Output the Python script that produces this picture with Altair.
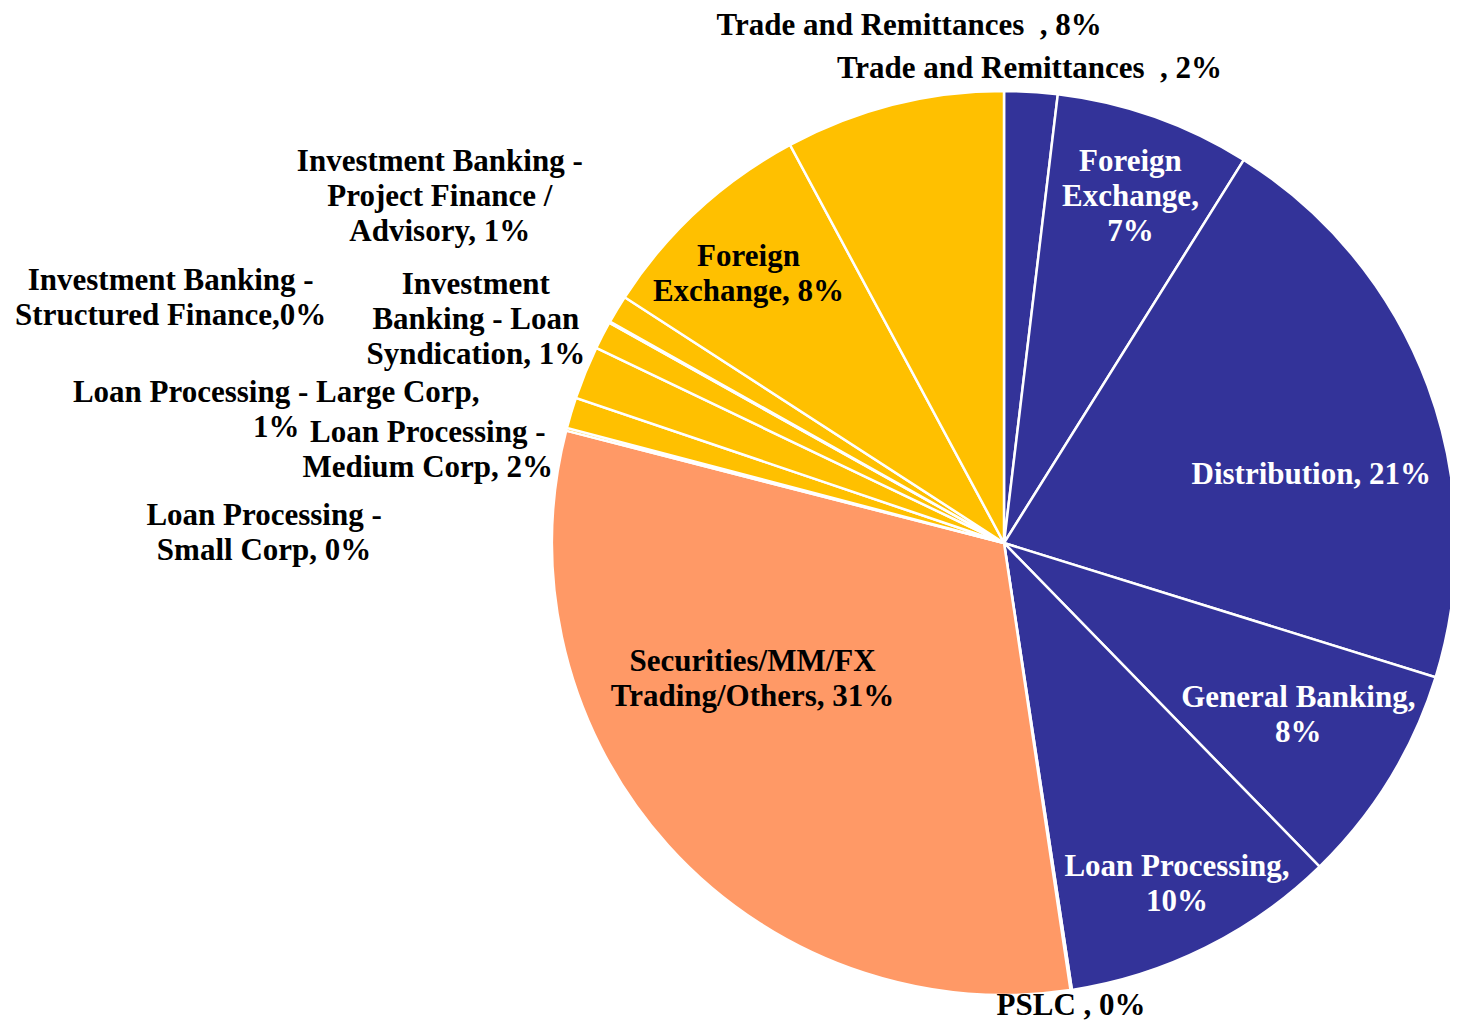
import altair as alt
import pandas as pd
import numpy as np

# ---- data ----
categories = [
    "Trade and Remittances", "Foreign Exchange", "Distribution", "General Banking",
    "Loan Processing", "PSLC", "Securities/MM/FX Trading/Others",
    "Loan Processing - Small Corp", "Loan Processing - Large Corp",
    "Loan Processing - Medium Corp", "Investment Banking - Loan Syndication",
    "Investment Banking - Structured Finance",
    "Investment Banking - Project Finance / Advisory",
    "Foreign Exchange (2)", "Trade and Remittances (2)",
]
values = [1.9, 7.0, 20.9, 7.9, 9.9, 0.05, 31.35, 0.1, 1.1, 1.9, 1.0, 0.05, 1.0, 8.0, 7.85]
groups = ["A", "A", "A", "A", "A", "A", "B", "C", "C", "C", "C", "C", "C", "C", "C"]
labels = [
    "Trade and Remittances\u00a0 , 2%",
    "Foreign\nExchange,\n7%",
    "Distribution, 21%",
    "General Banking,\n8%",
    "Loan Processing,\n10%",
    "PSLC , 0%",
    "Securities/MM/FX\nTrading/Others, 31%",
    "Loan Processing -\nSmall Corp, 0%",
    "Loan Processing - Large Corp,\n1%",
    "Loan Processing -\nMedium Corp, 2%",
    "Investment\nBanking - Loan\nSyndication, 1%",
    "Investment Banking -\nStructured Finance,0%",
    "Investment Banking -\nProject Finance /\nAdvisory, 1%",
    "Foreign\nExchange, 8%",
    "Trade and Remittances\u00a0 , 8%",
]

# ---- layout / style (label placement) ----
label_nudge_pct = [-0.1, 0.15, 2.1, -0.4, -0.15, 0.075, 3.875, -3.8, -1.75, -3.55, -1.2, -3.55, 0.15, -0.2, 1.05]
label_radius = [477, 370, 315, 340, 381, 466, 285, 740, 740, 584, 574, 869, 663, 372, 528]
label_white = [False, True, True, True, True, False, False, False, False, False, False, False, False, False, False]
group_colors = {"A": "#333399", "B": "#FF9966", "C": "#FFC000"}
LH = 35

df = pd.DataFrame({"cat": categories, "value": values, "group": groups, "label": labels})
df["idx"] = range(len(df))
cum = df["value"].cumsum()
mid = cum - df["value"] / 2 + pd.Series(label_nudge_pct)
ang = mid / 100 * 2 * np.pi
r = pd.Series(label_radius, dtype=float)
nlines = df["label"].str.count("\n")
# anchor of the first text line, so that the text block is centred on the target
ax = r * np.sin(ang)
ay = -r * np.cos(ang) - nlines * LH / 2
df["lr"] = np.sqrt(ax ** 2 + ay ** 2)
df["lpos"] = (np.degrees(np.arctan2(ax, -ay)) % 360) / 360 * 100
df["tcol"] = ["#FFFFFF" if w else "#000000" for w in label_white]

R = 452
W = 890

pie = alt.Chart(df).mark_arc(outerRadius=R, stroke="white", strokeWidth=2.5).encode(
    theta=alt.Theta("value:Q", stack=True, scale=alt.Scale(domain=[0, 100])),
    order=alt.Order("idx:Q"),
    color=alt.Color("group:N", scale=alt.Scale(domain=list(group_colors.keys()),
                                               range=list(group_colors.values())), legend=None),
)

text = alt.Chart(df).mark_text(
    font="Liberation Serif", fontWeight="bold", fontSize=31, lineBreak="\n",
    lineHeight=LH, align="center", baseline="middle", dy=2,
).encode(
    theta=alt.Theta("lpos:Q", stack=False, scale=alt.Scale(domain=[0, 100])),
    radius=alt.Radius("lr:Q", scale=None),
    text="label:N",
    color=alt.Color("tcol:N", scale=None),
)

chart = alt.layer(pie, text).properties(
    width=W, height=W,
    autosize=alt.AutoSizeParams(type="none"),
    padding={"left": 551, "top": 90, "right": 1, "bottom": 34},
).configure_view(stroke=None)

chart.save("out.html", embed_options={"renderer": "svg", "actions": False})
